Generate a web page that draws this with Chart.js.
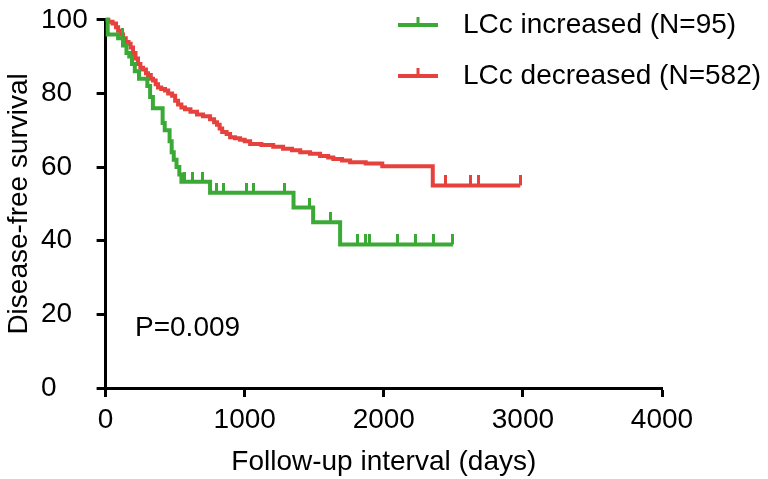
<!DOCTYPE html>
<html>
<head>
<meta charset="utf-8">
<script src="https://cdn.jsdelivr.net/npm/chart.js@4.4.1/dist/chart.umd.min.js"></script>
<style>
  html, body { margin: 0; padding: 0; background: #fff; }
  #wrap { position: relative; width: 768px; height: 479px; }
</style>
</head>
<body>
<div id="wrap"><canvas id="kmChart"></canvas></div>
<script>
// ========================================
// Kaplan-Meier curves: disease-free survival by LCc change
// ========================================

const xTicks = [0, 1000, 2000, 3000, 4000];
const yTicks = [0, 20, 40, 60, 80, 100];
const seriesNames = ['LCc increased (N=95)', 'LCc decreased (N=582)'];
const pValueText = 'P=0.009';

// LCc increased: event times (days) and survival (%) after each step
const incDays = [0, 15, 90, 125, 150, 170, 190, 210, 240, 300, 320, 340, 410, 425, 460, 475, 490, 510, 530, 545, 751, 1351, 1492, 1686, 2497];
const incSurv = [100, 96, 95, 93, 91, 90, 88, 86, 84, 82, 79, 76, 72, 70, 67, 64, 62, 60, 58, 56, 53, 49, 45, 39, 39];
const incCensorDays = [118, 570, 625, 695, 795, 850, 1010, 1065, 1285, 1466, 1615, 1809, 1866, 1895, 2095, 2226, 2356, 2497];

// LCc decreased
const decDays = [0, 20, 50, 75, 90, 110, 125, 145, 165, 180, 197, 215, 233, 250, 269, 290, 305, 325, 341, 360, 377, 400, 427, 450, 478, 500, 521, 545, 571, 610, 657, 700, 751, 780, 801, 820, 838, 870, 895, 930, 967, 1000, 1039, 1120, 1205, 1276, 1340, 1399, 1470, 1542, 1600, 1637, 1700, 1758, 1870, 1989, 2352, 2981];
const decSurv = [100, 99.5, 99, 98, 97, 96, 95, 94, 93.5, 92.5, 91, 89.5, 88, 87, 86.5, 85.5, 85, 84, 83.5, 82.5, 81.6, 81.2, 80.8, 80, 79.4, 78, 77, 76.2, 75.7, 75, 74.3, 73.8, 73, 72.2, 71.5, 70.5, 69.5, 69, 68.1, 67.8, 67.4, 67, 66.3, 66, 65.5, 65, 64.6, 64, 63.6, 63, 62.6, 62.2, 61.8, 61.3, 61, 60.2, 55, 55];
const decCensorDays = [2440, 2622, 2680, 2981];

const GREEN = '#3aa935';
const RED = '#e6413d';
const FONT = "'Liberation Sans', Arial, Helvetica, sans-serif";

Chart.defaults.font.family = FONT;
Chart.defaults.color = '#000';

function stepPoints(days, surv) {
    return days.map((d, i) => ({ x: d, y: surv[i] }));
}

// survival level in force at time t (step function lookup)
function survAt(days, surv, t) {
    let v = surv[0];
    for (let i = 0; i < days.length; i++) {
        if (days[i] <= t) v = surv[i];
    }
    return v;
}

// upward censor tick, drawn centred on the point so only the top half shows
function censorMark(color) {
    const c = document.createElement('canvas');
    c.width = 3;
    c.height = 20;
    const g = c.getContext('2d');
    g.fillStyle = color;
    g.fillRect(0, 0, 3, 10);
    return c;
}

const kmLegend = {
    id: 'kmLegend',
    afterDraw(chart) {
        const ctx = chart.ctx;
        const items = [
            { color: GREEN, text: seriesNames[0], y: 25 },
            { color: RED, text: seriesNames[1], y: 76 }
        ];
        ctx.save();
        ctx.font = '28px ' + FONT;
        ctx.textBaseline = 'middle';
        ctx.textAlign = 'left';
        items.forEach(it => {
            ctx.fillStyle = it.color;
            ctx.fillRect(398, it.y - 2, 40, 4);
            ctx.fillRect(416.5, it.y - 8, 3, 8);
            ctx.fillStyle = '#000';
            ctx.fillText(it.text, 463, it.y);
        });
        ctx.fillText(pValueText, 135, 328);
        ctx.restore();
    }
};

const ctx = document.getElementById('kmChart').getContext('2d');
new Chart(ctx, {
    type: 'scatter',
    data: {
        datasets: [
            {
                label: seriesNames[0],
                data: stepPoints(incDays, incSurv),
                showLine: true,
                stepped: 'before',
                borderColor: GREEN,
                borderWidth: 4,
                pointRadius: 0,
                clip: 8
            },
            {
                label: 'censored',
                data: incCensorDays.map(d => ({ x: d, y: survAt(incDays, incSurv, d) })),
                showLine: false,
                pointStyle: censorMark(GREEN),
                pointRadius: 4,
                clip: 12
            },
            {
                label: seriesNames[1],
                data: stepPoints(decDays, decSurv),
                showLine: true,
                stepped: 'before',
                borderColor: RED,
                borderWidth: 4,
                pointRadius: 0,
                clip: 8
            },
            {
                label: 'censored',
                data: decCensorDays.map(d => ({ x: d, y: survAt(decDays, decSurv, d) })),
                showLine: false,
                pointStyle: censorMark(RED),
                pointRadius: 4,
                clip: 12
            }
        ]
    },
    options: {
        responsive: true,
        maintainAspectRatio: false,
        animation: false,
        layout: {
            padding: { left: 41, right: 106, top: 0, bottom: 0 }
        },
        scales: {
            x: {
                type: 'linear',
                min: 0,
                max: 4000,
                afterBuildTicks: s => { s.ticks = xTicks.map(v => ({ value: v })); },
                afterFit: s => { s.height = 91; },
                ticks: {
                    callback: v => String(v),
                    font: { size: 28 },
                    color: '#000',
                    padding: 6,
                    maxRotation: 0
                },
                grid: {
                    drawOnChartArea: false,
                    drawTicks: true,
                    tickLength: 9,
                    tickWidth: 3,
                    tickColor: '#000'
                },
                border: { display: true, color: '#000', width: 3 },
                title: {
                    display: true,
                    text: 'Follow-up interval (days)',
                    font: { size: 28 },
                    color: '#000',
                    padding: { top: 0, bottom: 0 }
                }
            },
            y: {
                min: 0,
                max: 100,
                afterBuildTicks: s => { s.ticks = yTicks.map(v => ({ value: v })); },
                afterFit: s => { s.width = 64.6; },
                ticks: {
                    callback: v => String(v),
                    font: { size: 28 },
                    color: '#000',
                    crossAlign: 'far'
                },
                grid: {
                    drawOnChartArea: false,
                    drawTicks: true,
                    tickLength: 9,
                    tickWidth: 3,
                    tickColor: '#000'
                },
                border: { display: true, color: '#000', width: 3 },
                title: {
                    display: true,
                    text: 'Disease-free survival',
                    font: { size: 28 },
                    color: '#000',
                    padding: { top: -39, bottom: 0 }
                }
            }
        },
        plugins: {
            legend: { display: false },
            tooltip: { enabled: false }
        }
    },
    plugins: [kmLegend]
});
</script>
</body>
</html>
